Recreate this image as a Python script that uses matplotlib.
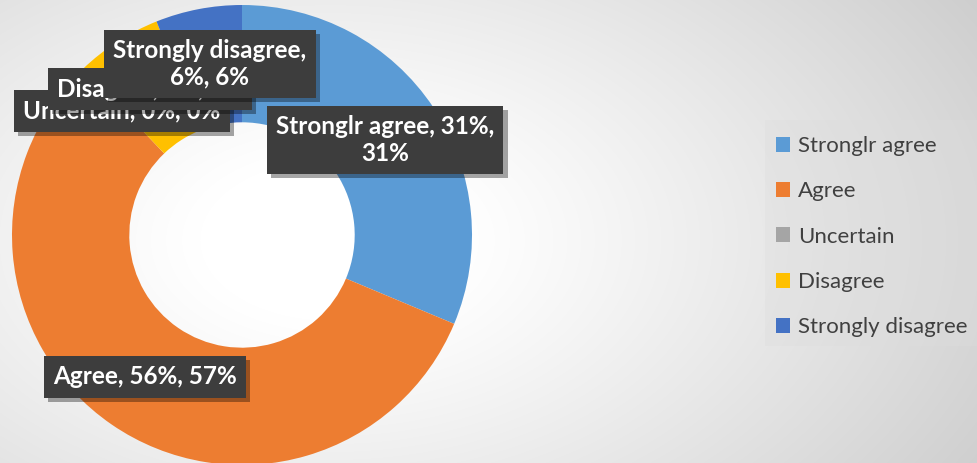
import numpy as np
import matplotlib
matplotlib.use("Agg")
import matplotlib.pyplot as plt
from matplotlib.patches import Patch, Rectangle
from matplotlib import patheffects as pe

# data
categories = ["Stronglr agree", "Agree", "Uncertain", "Disagree", "Strongly disagree"]
values = [31, 56, 0, 6, 6]          # percent values as typed in the sheet
colors = ["#5B9BD5", "#ED7D31", "#A5A5A5", "#FFC000", "#4472C4"]

total = sum(values)
shares = [round(v / total * 100) for v in values]

W, H = 977, 463
fig = plt.figure(figsize=(W / 100, H / 100), dpi=100)

# background: soft radial gradient, white centre, grey corners
bg = fig.add_axes([0, 0, 1, 1], zorder=0)
yy, xx = np.mgrid[0:H, 0:W]
d = np.sqrt(((xx - 330) / 650.0) ** 2 + ((yy - 240) / 400.0) ** 2)
g = 1.0 - 0.2 * np.clip(d - 0.2, 0, 1) ** 1.1
bg.imshow(np.dstack([g, g, g]), aspect="auto", extent=[0, W, H, 0])
bg.axis("off")
# legend panel
bg.add_patch(Rectangle((765, 120), 212, 226, facecolor="#dddddd", edgecolor="none", alpha=0.35))
bg.set_xlim(0, W)
bg.set_ylim(H, 0)

# donut: centre at (242, 235) px, radius 230 px
cx, cy, r = 242, 235, 230
ax = fig.add_axes([(cx - r) / W, (H - cy - r) / H, 2 * r / W, 2 * r / H], zorder=1)
ax.pie(values, colors=colors, startangle=90, counterclock=False, radius=1,
       wedgeprops=dict(width=0.51, edgecolor="none"))
ax.set_xlim(-1, 1)
ax.set_ylim(-1, 1)
ax.set_aspect("equal")
ax.axis("off")

# data labels (position in px of box centre), drawn bottom to top
label_pos = {
    "Uncertain": (122, 111),
    "Disagree": (150, 89),
    "Strongly disagree": (210, 64),
    "Stronglr agree": (385, 140),
    "Agree": (145, 377),
}
wrap = {"Stronglr agree": "Stronglr agree, {v}%,\n{p}%",
        "Strongly disagree": "Strongly disagree,\n{v}%, {p}%"}

z = 3
for name in ["Uncertain", "Disagree", "Strongly disagree", "Stronglr agree", "Agree"]:
    i = categories.index(name)
    fmt = wrap.get(name, name + ", {v}%, {p}%")
    txt = fmt.format(v=values[i], p=shares[i])
    px, py = label_pos[name]
    t = ax.text((px - cx) / r, (cy - py) / r, txt, ha="center", va="center",
                fontsize=17.5, fontweight="bold", family="Lato", color="white",
                linespacing=1.2, zorder=z,
                bbox=dict(boxstyle="square,pad=0.38", facecolor="#3d3d3d",
                          edgecolor="none"))
    t.get_bbox_patch().set_path_effects([
        pe.SimplePatchShadow(offset=(3, -3), shadow_rgbFace="#000000", alpha=0.35),
        pe.Normal()])
    z += 1

# legend
handles = [Patch(facecolor=c, edgecolor="none") for c in colors]
leg = fig.legend(handles, categories, loc="upper left",
                 bbox_to_anchor=(756 / W, 1 - 116 / H), frameon=False,
                 prop=dict(family="Lato", size=16), labelspacing=1.14,
                 handlelength=0.65, handleheight=0.65, handletextpad=0.35)
for t in leg.get_texts():
    t.set_color("#404040")

fig.savefig("out.png", dpi=100)
